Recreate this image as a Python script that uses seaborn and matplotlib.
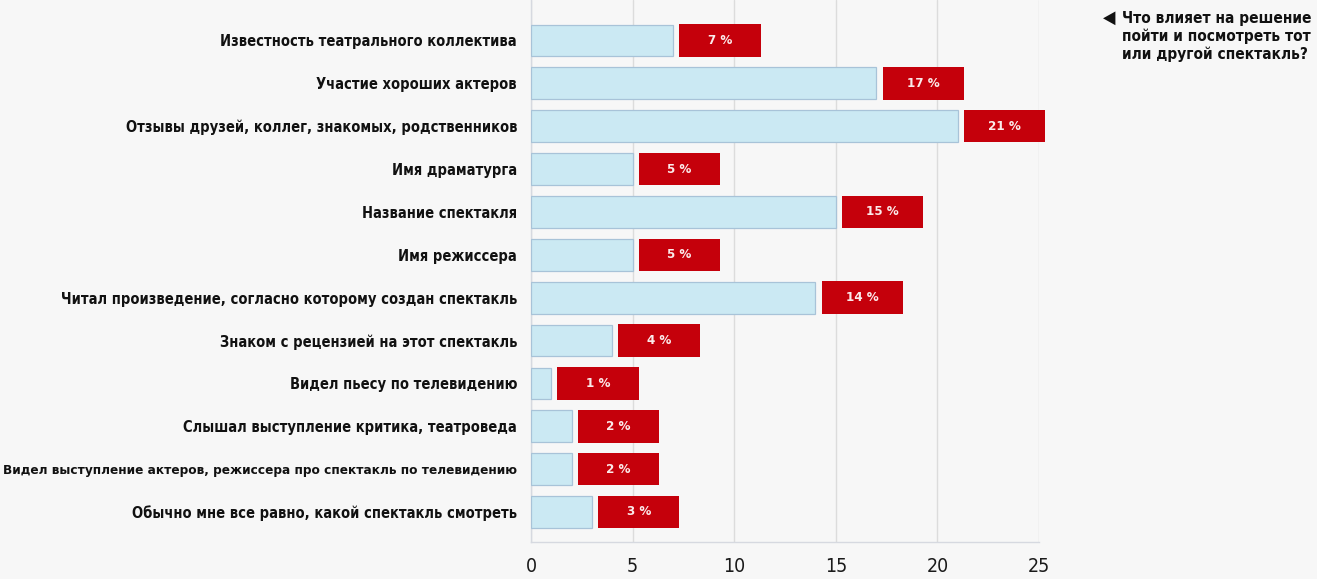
import numpy as np
import pandas as pd
import matplotlib
matplotlib.use("Agg")
import matplotlib.pyplot as plt
from matplotlib import font_manager as fm
import seaborn as sns

# ---------------- data ----------------
categories = [
    "Известность театрального коллектива",
    "Участие хороших актеров",
    "Отзывы друзей, коллег, знакомых, родственников",
    "Имя драматурга",
    "Название спектакля",
    "Имя режиссера",
    "Читал произведение, согласно которому создан спектакль",
    "Знаком с рецензией на этот спектакль",
    "Видел пьесу по телевидению",
    "Слышал выступление критика, театроведа",
    "Видел выступление актеров, режиссера про спектакль по телевидению",
    "Обычно мне все равно, какой спектакль смотреть",
]
values = [7, 17, 21, 5, 15, 5, 14, 4, 1, 2, 2, 3]
value_labels = [f"{v} %" for v in values]
xticks = [0, 5, 10, 15, 20, 25]
title_lines = [
    "Что влияет на решение",
    "пойти и посмотреть тот",
    "или другой спектакль?",
]

# ---------------- style ----------------
sns.set_theme(style="white")
names = {f.name for f in fm.fontManager.ttflist}
stretch = "normal"
if "Liberation Sans Narrow" in names:
    main_font = "Liberation Sans Narrow"
elif any(f.name == "DejaVu Sans" and "ondensed" in str(f.stretch) for f in fm.fontManager.ttflist):
    main_font = "DejaVu Sans"
    stretch = "condensed"
elif "Roboto" in names:
    main_font = "Roboto"
else:
    main_font = "DejaVu Sans"
plt.rcParams["font.family"] = [main_font, "DejaVu Sans"]
plt.rcParams["font.stretch"] = stretch

BG = "#f7f7f7"
W, H = 1317, 579
fig = plt.figure(figsize=(W / 100, H / 100), dpi=100, facecolor=BG)
renderer = fig.canvas.get_renderer()


def fit_size(text, target_px, base=12, **kw):
    t = fig.text(0, 0, text, fontsize=base, **kw)
    w = t.get_window_extent(renderer).width
    t.remove()
    return base * target_px / w


lab_fs = min(13.0, fit_size(categories[0], 295, weight="bold", fontstretch=stretch))
long_fs = min(lab_fs, fit_size(categories[10], 512, weight="bold", fontstretch=stretch))
title_fs = min(12.5, fit_size(title_lines[0], 190, weight="bold", fontstretch=stretch))

left, right = 531 / W, 1039 / W
bottom = (H - 542) / H
ax = fig.add_axes([left, bottom, right - left, 1 - bottom])
ax.set_facecolor(BG)

df = pd.DataFrame({"category": categories, "value": values})
sns.barplot(data=df, x="value", y="category", orient="h", order=categories,
            color="#cbe9f3", saturation=1, edgecolor="#a8c3d8", linewidth=0.9,
            width=0.74, ax=ax, zorder=3)

ypos = np.arange(len(categories))
gap, box_w = 0.3, 4.0
starts = np.array(values, dtype=float) + gap
ax.barh(ypos, box_w, left=starts, height=0.76, color="#c5000b",
        edgecolor="none", clip_on=False, zorder=4)
for y, s, lab in zip(ypos, starts, value_labels):
    ax.text(s + box_w / 2, y, lab, ha="center", va="center", color="#fbeaea",
            fontsize=9.5, fontweight="bold", fontstretch=stretch, zorder=5,
            clip_on=False)

ax.set_xlim(0, 25)
ax.set_ylim(11.70, -0.944)
ax.set_xticks(xticks)
ax.set_xticklabels([str(t) for t in xticks])
ax.xaxis.grid(True, color="#dcdcdc", linewidth=1.0, zorder=0)
ax.yaxis.grid(False)
ax.set_axisbelow(True)
ax.set_xlabel("")
ax.set_ylabel("")
for s in ["top", "right"]:
    ax.spines[s].set_visible(False)
for s in ["left", "bottom"]:
    ax.spines[s].set_color("#d6d9e0")
    ax.spines[s].set_linewidth(1.0)

ax.tick_params(axis="x", length=0, pad=11, labelsize=14, labelcolor="#1a1a1a")
ax.tick_params(axis="y", length=0, pad=10)
for i, t in enumerate(ax.get_yticklabels()):
    t.set_fontweight("bold")
    t.set_fontstretch(stretch)
    t.set_color("#111111")
    t.set_fontsize(long_fs if i == 10 else lab_fs)
for t in ax.get_xticklabels():
    t.set_fontstretch(stretch)

# title block (top right)
fig.text(1109 / W, 1 - 18 / H, "◀", family="DejaVu Sans", fontsize=13,
         ha="center", va="center", color="#111111")
for k, line in enumerate(title_lines):
    fig.text(1122 / W, 1 - (18 + 18 * k) / H, line, fontsize=title_fs,
             fontweight="bold", fontstretch=stretch, ha="left", va="center",
             color="#111111")

fig.savefig("out.png", dpi=100, facecolor=BG)
